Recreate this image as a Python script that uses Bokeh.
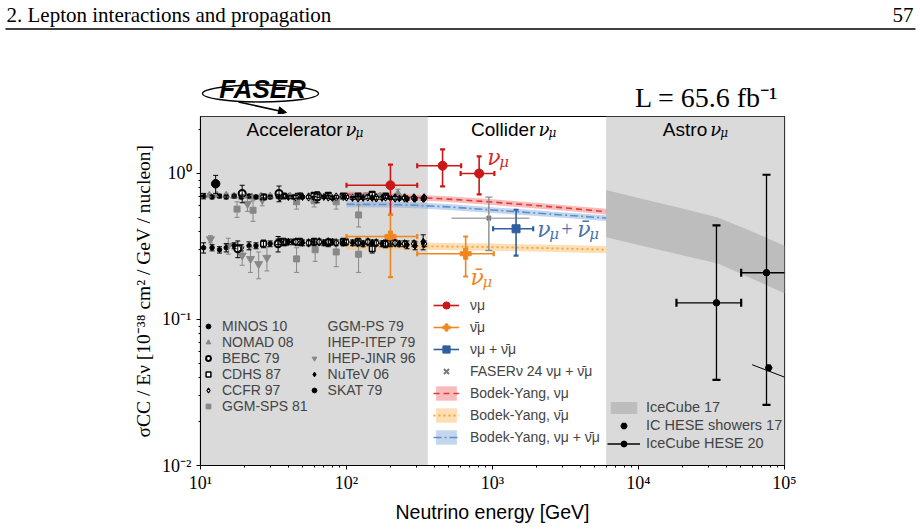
import numpy as np
from bokeh.plotting import figure
from bokeh.layouts import column
from bokeh.models import (ColumnDataSource, Whisker, TeeHead, BoxAnnotation, Legend, LegendItem,
                          FixedTicker, Range1d, Arrow, NormalHead)
from bokeh.core.properties import value
from bokeh.embed import file_html
from bokeh.resources import INLINE

# ---------------- axis ticks ----------------
x_ticks = [10, 100, 1000, 10000, 100000]
x_tick_labels = ["10¹", "10²", "10³", "10⁴", "10⁵"]
y_ticks = [0.01, 0.1, 1]
y_tick_labels = ["10⁻²", "10⁻¹", "10⁰"]

acc_region = [10, 360]
astro_region = [6000, 100000]

# ---------------- accelerator data (E [GeV], sigma/E, err) ----------------
minos_E_nu = [10.5, 12, 13.5, 15, 17, 19, 21.5, 24, 27, 30, 34, 38, 43, 48]
minos_nu = [0.70, 0.69, 0.70, 0.69, 0.70, 0.69, 0.70, 0.69, 0.70, 0.69, 0.70, 0.70, 0.69, 0.70]
minos_nu_err = [0.03, 0.02, 0.02, 0.02, 0.02, 0.02, 0.02, 0.02, 0.02, 0.02, 0.02, 0.02, 0.02, 0.02]
minos_E_nub = [10.5, 12, 13.5, 15, 17, 19, 21.5, 24, 27, 30, 34, 38, 43, 48]
minos_nub = [0.31, 0.31, 0.30, 0.31, 0.32, 0.31, 0.32, 0.32, 0.33, 0.33, 0.34, 0.335, 0.34, 0.34]
minos_nub_err = [0.025, 0.015, 0.015, 0.02, 0.015, 0.015, 0.02, 0.015, 0.015, 0.015, 0.015, 0.015, 0.015, 0.015]

nomad_E = [10, 11.5, 13, 15, 17, 19.5, 22.5, 26, 30, 35, 41, 48, 56, 66, 78, 92, 110, 135, 170, 225]
nomad_nu = [0.70, 0.71, 0.71, 0.71, 0.70, 0.70, 0.69, 0.70, 0.70, 0.69, 0.70, 0.70, 0.69, 0.70,
            0.70, 0.69, 0.69, 0.70, 0.70, 0.73]
nomad_err = [0.02, 0.02, 0.02, 0.02, 0.02, 0.02, 0.02, 0.02, 0.02, 0.02, 0.02, 0.02, 0.02, 0.02,
             0.02, 0.02, 0.02, 0.03, 0.03, 0.05]

bebc_E_nu = [19.3, 34.5, 63]
bebc_nu = [0.73, 0.73, 0.69]
bebc_nu_err = [0.10, 0.09, 0.06]
bebc_E_nub = [18, 34]
bebc_nub = [0.305, 0.33]
bebc_nub_err = [0.04, 0.04]

cdhs_E = [27, 37, 48, 60, 75, 95, 120, 150, 185]
cdhs_nu = [0.69, 0.70, 0.70, 0.71, 0.71, 0.70, 0.70, 0.72, 0.70]
cdhs_nu_err = [0.02, 0.02, 0.02, 0.02, 0.02, 0.02, 0.02, 0.02, 0.02]
cdhs_nub = [0.33, 0.34, 0.34, 0.34, 0.335, 0.34, 0.34, 0.305, 0.33]
cdhs_nub_err = [0.02, 0.02, 0.02, 0.02, 0.02, 0.02, 0.02, 0.02, 0.02]

ccfr_E = [35, 45, 55, 65, 75, 85, 100, 120, 140, 160, 185, 215, 250, 290, 340]
ccfr_nu = [0.69, 0.69, 0.69, 0.70, 0.69, 0.69, 0.69, 0.68, 0.69, 0.68, 0.69, 0.68, 0.68, 0.68, 0.68]
ccfr_nu_err = [0.015] * 15
ccfr_nub = [0.34, 0.34, 0.335, 0.34, 0.34, 0.335, 0.34, 0.335, 0.34, 0.335, 0.33, 0.335, 0.33, 0.33, 0.33]
ccfr_nub_err = [0.015] * 15

ggmsps_E_nu = [17.8, 22.9, 45.5, 60, 85, 121]
ggmsps_nu = [0.57, 0.56, 0.64, 0.65, 0.64, 0.52]
ggmsps_nu_err = [0.07, 0.09, 0.07, 0.06, 0.07, 0.09]
ggmsps_E_nub = [45.5, 61, 85, 121]
ggmsps_nub = [0.26, 0.30, 0.29, 0.28]
ggmsps_nub_err = [0.05, 0.05, 0.06, 0.07]

ggmps_E = []          # below 10 GeV, outside the plotted range
ggmps_s = []
ihepitep_E = []       # below 10 GeV, outside the plotted range
ihepitep_s = []

ihepjinr_E_nu = [21, 26.5]
ihepjinr_nu = [0.62, 0.66]
ihepjinr_nu_err = [0.07, 0.06]
ihepjinr_E_nub = [11.7, 15.5, 19.3, 22, 25, 28.5]
ihepjinr_nub = [0.355, 0.32, 0.275, 0.26, 0.24, 0.265]
ihepjinr_nub_err = [0.02, 0.04, 0.04, 0.05, 0.05, 0.05]

nutev_E = [40, 50, 60, 70, 80, 95, 110, 130, 150, 175, 200, 230, 260, 295, 335]
nutev_nu = [0.69, 0.69, 0.68, 0.69, 0.68, 0.69, 0.68, 0.68, 0.68, 0.68, 0.68, 0.675, 0.67, 0.67, 0.67]
nutev_nu_err = [0.015] * 15
nutev_nub = [0.34, 0.335, 0.34, 0.335, 0.34, 0.335, 0.335, 0.33, 0.335, 0.33, 0.33, 0.33, 0.325, 0.32, 0.34]
nutev_nub_err = [0.015, 0.015, 0.015, 0.015, 0.015, 0.015, 0.015, 0.015, 0.015, 0.015, 0.015, 0.015,
                 0.02, 0.02, 0.04]

skat_E = [12.7]
skat_nu = [0.85]
skat_nu_err = [0.12]

# ---------------- FASER 65.6 fb^-1 ----------------
faser_nu_E = [200, 455, 810]
faser_nu_Elo = [100, 305, 605]
faser_nu_Ehi = [305, 610, 1030]
faser_nu_s = [0.83, 1.13, 1.00]
faser_nu_slo = [0.52, 0.815, 0.72]
faser_nu_shi = [1.15, 1.46, 1.31]

faser_nub_E = [200, 655]
faser_nub_Elo = [100, 305]
faser_nub_Ehi = [305, 1020]
faser_nub_s = [0.37, 0.282]
faser_nub_slo = [0.195, 0.197]
faser_nub_shi = [0.52, 0.37]

faser_sum_E = [1450]
faser_sum_Elo = [1010]
faser_sum_Ehi = [1900]
faser_sum_s = [0.418]
faser_sum_slo = [0.274]
faser_sum_shi = [0.564]

fasernu24_E = [944]
fasernu24_Elo = [524]
fasernu24_Ehi = [1790]
fasernu24_s = [0.494]
fasernu24_slo = [0.297]
fasernu24_shi = [0.689]

# ---------------- Bodek-Yang predictions ----------------
by_E = [100, 200, 300, 500, 1000, 2000, 3000, 6000]
by_nu = [0.720, 0.700, 0.685, 0.667, 0.637, 0.603, 0.583, 0.548]
by_nu_lo = [0.688, 0.669, 0.655, 0.637, 0.608, 0.576, 0.557, 0.524]
by_nu_hi = [0.752, 0.732, 0.716, 0.697, 0.666, 0.630, 0.609, 0.573]
by_nub = [0.320, 0.319, 0.318, 0.316, 0.313, 0.309, 0.306, 0.301]
by_nub_lo = [0.302, 0.301, 0.300, 0.298, 0.295, 0.292, 0.289, 0.284]
by_nub_hi = [0.338, 0.337, 0.336, 0.334, 0.331, 0.326, 0.323, 0.318]
by_sum = [0.615, 0.612, 0.605, 0.590, 0.562, 0.535, 0.520, 0.495]
by_sum_lo = [0.587, 0.585, 0.578, 0.563, 0.537, 0.511, 0.497, 0.473]
by_sum_hi = [0.643, 0.640, 0.632, 0.617, 0.587, 0.559, 0.543, 0.517]

# ---------------- Astro ----------------
ic17_E = [6000, 10000, 20000, 35000, 60000, 100000]
ic17_lo = [0.365, 0.323, 0.275, 0.242, 0.19, 0.151]
ic17_hi = [0.77, 0.68, 0.575, 0.50, 0.40, 0.32]

hese20_E = [34200, 75300]
hese20_Elo = [18200, 50500]
hese20_Ehi = [50500, 112000]
hese20_s = [0.130, 0.209]
hese20_slo = [0.0386, 0.026]
hese20_shi = [0.441, 0.98]

hesesh_E = [78000]
hesesh_s = [0.0467]
hesesh_seg_E = [60000, 100000]
hesesh_seg_s = [0.049, 0.0403]

# ---------------- styles ----------------
BLACK = "#000000"
GRAY = "#888888"
RED = "#cc1717"
ORANGE = "#f0861c"
BLUE = "#2f5f9e"
REGION = "#dadada"
SANS = "Liberation Sans"
SERIF = "Liberation Serif"
MATH = "DejaVu Serif"
BASE_FIX = -6   # baseline correction (px) for alphabetic text


def no_align(fig):
    try:
        fig.frame_align = False
    except Exception:
        pass


# ================= header figure =================
h = figure(width=920, height=114, x_range=Range1d(0, 920), y_range=Range1d(114, 0),
           toolbar_location=None, output_backend="svg", min_border=0,
           x_axis_location=None, y_axis_location=None)
no_align(h)
h.outline_line_color = None
h.grid.visible = False
h.text(x=[6], y=[14], text=["2. Lepton interactions and propagation"], text_font=value(SERIF),
       text_font_size="21px", text_baseline="alphabetic", text_align="left", text_color=BLACK)
h.text(x=[913], y=[14], text=["57"], text_font=value(SERIF), text_font_size="21px",
       text_baseline="alphabetic", text_align="right", text_color=BLACK)
h.segment(x0=[5], y0=[28.5], x1=[915], y1=[28.5], line_color=BLACK, line_width=1.5)
h.ellipse(x=[260], y=[93], width=[116], height=[17], fill_alpha=0, line_color=BLACK, line_width=1.3)
h.add_layout(Arrow(end=NormalHead(size=8, fill_color=BLACK, line_color=BLACK), x_start=238, y_start=101.5,
                   x_end=286, y_end=112, line_color=BLACK, line_width=1.5))
h.text(x=[262], y=[88], text=["FASER"], text_font=value(SANS), text_font_style="bold italic",
       text_font_size="26px", text_baseline="middle", text_align="center", text_color=BLACK)
h.text(x=[778], y=[97], text=["L = 65.6 fb⁻¹"], text_font=value(SERIF), text_font_size="28px",
       text_baseline="alphabetic", text_align="right", text_color=BLACK)

# ================= main figure =================
p = figure(width=920, height=416, x_axis_type="log", y_axis_type="log",
           x_range=Range1d(10, 1e5), y_range=Range1d(0.01, 2.455),
           min_border_left=200, min_border_right=136, min_border_top=2, min_border_bottom=65,
           toolbar_location=None, output_backend="svg")
no_align(p)
p.grid.visible = False
p.outline_line_color = BLACK
p.outline_line_width = 1.2
p.outline_line_alpha = 1.0
p.background_fill_color = "white"
p.border_fill_color = "white"

x_minor = [m * d for d in [10, 100, 1000, 10000] for m in range(2, 10)]
y_minor = [m * d for d in [0.01, 0.1] for m in range(2, 10)] + [2]
p.xaxis.ticker = FixedTicker(ticks=x_ticks, minor_ticks=x_minor)
p.yaxis.ticker = FixedTicker(ticks=y_ticks, minor_ticks=y_minor)
p.xaxis.major_label_overrides = {float(t): l for t, l in zip(x_ticks, x_tick_labels)}
p.yaxis.major_label_overrides = {float(t): l for t, l in zip(y_ticks, y_tick_labels)}
for ax in (p.xaxis[0], p.yaxis[0]):
    ax.major_tick_out = 4
    ax.major_tick_in = 0
    ax.minor_tick_out = 2
    ax.minor_tick_in = 0
    ax.major_tick_line_color = BLACK
    ax.minor_tick_line_color = BLACK
    ax.axis_line_color = BLACK
    ax.major_label_text_font = SERIF
    ax.major_label_text_font_size = "18px"
    ax.major_label_text_color = BLACK
    ax.axis_label_text_font_style = "normal"
    ax.axis_label_text_color = BLACK
p.xaxis.major_label_standoff = 3
p.yaxis.major_label_standoff = 5
p.xaxis.axis_label = "Neutrino energy [GeV]"
p.xaxis.axis_label_text_font = SANS
p.xaxis.axis_label_text_font_size = "19.5px"
p.xaxis.axis_label_standoff = 5
p.yaxis.axis_label = "σCC / Eν [10⁻³⁸ cm² / GeV / nucleon]"
p.yaxis.axis_label_text_font = SERIF
p.yaxis.axis_label_text_font_size = "19.5px"
p.yaxis.axis_label_standoff = 5

# regions
p.add_layout(BoxAnnotation(left=acc_region[0], right=acc_region[1], fill_color=REGION, fill_alpha=1,
                           line_alpha=0, level="underlay"))
p.add_layout(BoxAnnotation(left=astro_region[0], right=astro_region[1], fill_color=REGION, fill_alpha=1,
                           line_alpha=0, level="underlay"))

# IceCube 17 band
r_ic17 = p.varea(x=ic17_E, y1=ic17_lo, y2=ic17_hi, fill_color="#bdbdbd", fill_alpha=1)

# Bodek-Yang bands
r_by_nu_b = p.varea(x=by_E, y1=by_nu_lo, y2=by_nu_hi, fill_color="#ef6a6a", fill_alpha=0.45)
r_by_nu_l = p.line(by_E, by_nu, line_color="#e23a36", line_width=1.6, line_dash="6 4")
r_by_nub_b = p.varea(x=by_E, y1=by_nub_lo, y2=by_nub_hi, fill_color="#fdbd6a", fill_alpha=0.5)
r_by_nub_l = p.line(by_E, by_nub, line_color="#f2a43a", line_width=1.8, line_dash="2 3")
r_by_sum_b = p.varea(x=by_E, y1=by_sum_lo, y2=by_sum_hi, fill_color="#7ba3d6", fill_alpha=0.45)
r_by_sum_l = p.line(by_E, by_sum, line_color="#5b8fd4", line_width=1.6, line_dash="8 3 2 3")


def errpts(E, s, err, color, marker, size, fill, lw=1.0, cap=5, mlw=1.0):
    lo = [a - b for a, b in zip(s, err)]
    hi = [a + b for a, b in zip(s, err)]
    src = ColumnDataSource(dict(x=E, y=s, lo=lo, hi=hi))
    p.add_layout(Whisker(source=src, base="x", lower="lo", upper="hi", dimension="height", level="glyph",
                         line_color=color, line_width=lw,
                         upper_head=TeeHead(size=cap, line_color=color, line_width=lw),
                         lower_head=TeeHead(size=cap, line_color=color, line_width=lw)))
    return p.scatter(x="x", y="y", source=src, marker=marker, size=size, fill_color=fill,
                     line_color=color, line_width=mlw)


def nopts(marker, size, color):
    src = ColumnDataSource(dict(x=[], y=[]))
    return p.scatter(x="x", y="y", source=src, marker=marker, size=size, fill_color=color, line_color=color)


# gray experiments first
r_nomad = errpts(nomad_E, nomad_nu, nomad_err, GRAY, "triangle", 7, GRAY)
r_ggmsps = errpts(ggmsps_E_nu, ggmsps_nu, ggmsps_nu_err, GRAY, "square", 6, GRAY)
errpts(ggmsps_E_nub, ggmsps_nub, ggmsps_nub_err, GRAY, "square", 6, GRAY)
r_jinr = errpts(ihepjinr_E_nub, ihepjinr_nub, ihepjinr_nub_err, GRAY, "inverted_triangle", 8, GRAY)
errpts(ihepjinr_E_nu, ihepjinr_nu, ihepjinr_nu_err, GRAY, "inverted_triangle", 8, GRAY)
# black experiments
r_minos = errpts(minos_E_nu, minos_nu, minos_nu_err, BLACK, "circle", 4.5, BLACK)
errpts(minos_E_nub, minos_nub, minos_nub_err, BLACK, "circle", 4.5, BLACK)
r_cdhs = errpts(cdhs_E, cdhs_nu, cdhs_nu_err, BLACK, "square", 5.5, "white", mlw=1.5)
errpts(cdhs_E, cdhs_nub, cdhs_nub_err, BLACK, "square", 5.5, "white", mlw=1.5)
r_ccfr = errpts(ccfr_E, ccfr_nu, ccfr_nu_err, BLACK, "diamond", 8, "white", mlw=1.2)
errpts(ccfr_E, ccfr_nub, ccfr_nub_err, BLACK, "diamond", 8, "white", mlw=1.2)
r_nutev = errpts(nutev_E, nutev_nu, nutev_nu_err, BLACK, "diamond", 7, BLACK)
errpts(nutev_E, nutev_nub, nutev_nub_err, BLACK, "diamond", 7, BLACK)
r_bebc = errpts(bebc_E_nu, bebc_nu, bebc_nu_err, BLACK, "circle", 7, "white", mlw=2)
errpts(bebc_E_nub, bebc_nub, bebc_nub_err, BLACK, "circle", 7, "white", mlw=2)
r_skat = errpts(skat_E, skat_nu, skat_nu_err, BLACK, "circle", 8.5, BLACK)
r_ggmps = nopts("square", 6, BLACK)
r_itep = nopts("inverted_triangle", 8, BLACK)


def faser(E, Elo, Ehi, s, slo, shi, color, marker, size, lw=1.6, cap=5):
    src = ColumnDataSource(dict(x=E, xl=Elo, xh=Ehi, y=s, yl=slo, yh=shi))
    r1 = p.segment(x0="xl", y0="y", x1="xh", y1="y", source=src, line_color=color, line_width=lw)
    r2 = p.segment(x0="x", y0="yl", x1="x", y1="yh", source=src, line_color=color, line_width=lw)
    p.scatter(x="x", y="yl", source=src, marker="dash", size=cap, line_color=color, line_width=2.2)
    p.scatter(x="x", y="yh", source=src, marker="dash", size=cap, line_color=color, line_width=2.2)
    p.scatter(x="xl", y="y", source=src, marker="dash", angle=np.pi / 2, size=cap, line_color=color,
              line_width=2.2)
    p.scatter(x="xh", y="y", source=src, marker="dash", angle=np.pi / 2, size=cap, line_color=color,
              line_width=2.2)
    r3 = p.scatter(x="x", y="y", source=src, marker=marker, size=size, fill_color=color, line_color=color)
    return [r1, r2, r3]


# FASERnu 24
src24 = ColumnDataSource(dict(x=fasernu24_E, xl=fasernu24_Elo, xh=fasernu24_Ehi, y=fasernu24_s,
                              yl=fasernu24_slo, yh=fasernu24_shi))
p.segment(x0="xl", y0="y", x1="xh", y1="y", source=src24, line_color="#a8a8a8", line_width=1.4)
p.add_layout(Whisker(source=src24, base="x", lower="yl", upper="yh", dimension="height", level="glyph",
                     line_color="#8c8c8c", line_width=1.4,
                     upper_head=TeeHead(size=7, line_color="#8c8c8c", line_width=1.4),
                     lower_head=TeeHead(size=7, line_color="#8c8c8c", line_width=1.4)))
r_f24 = p.scatter(x="x", y="y", source=src24, marker="x", size=6, line_color="#7a7a7a", line_width=2)

r_fnu = faser(faser_nu_E, faser_nu_Elo, faser_nu_Ehi, faser_nu_s, faser_nu_slo, faser_nu_shi,
              RED, "circle", 9)
r_fnub = faser(faser_nub_E, faser_nub_Elo, faser_nub_Ehi, faser_nub_s, faser_nub_slo, faser_nub_shi,
               ORANGE, "plus", 11)
r_fsum = faser(faser_sum_E, faser_sum_Elo, faser_sum_Ehi, faser_sum_s, faser_sum_slo, faser_sum_shi,
               BLUE, "square", 8)

# IceCube HESE 20
r_hese = faser(hese20_E, hese20_Elo, hese20_Ehi, hese20_s, hese20_slo, hese20_shi, BLACK, "circle", 6.5,
               lw=1.3, cap=8)
# IC HESE showers 17
p.line(hesesh_seg_E, hesesh_seg_s, line_color=BLACK, line_width=1.0)
r_hesesh = p.scatter(x=hesesh_E, y=hesesh_s, marker="hex", size=6.5, fill_color=BLACK,
                     line_color=BLACK, line_width=1.2)


# ---------------- text labels ----------------
def tx(x, y, t, color, size, font=MATH, style="italic", dx=0, dy=0, align="left"):
    p.text(x=[x], y=[y], text=[t], x_offset=dx, y_offset=dy + BASE_FIX, text_font=value(font),
           text_font_style=style, text_font_size=size, text_color=color, text_align=align,
           text_baseline="alphabetic")


for xr, word in [(94, "Accelerator"), (1970, "Collider"), (29550, "Astro")]:
    tx(xr, 1.82, word, BLACK, "19px", font=SANS, style="normal", align="right")
    tx(xr, 1.82, "ν", BLACK, "18px", dx=3)
    tx(xr, 1.82, "μ", BLACK, "12px", dx=13, dy=4)

tx(920, 1.171, "ν", "#d42a2a", "22px")
tx(920, 1.171, "μ", "#d42a2a", "15px", dx=12, dy=5)
tx(2023, 0.376, "ν", "#4a72b0", "22px")
tx(2023, 0.376, "μ", "#4a72b0", "15px", dx=12, dy=5)
tx(2023, 0.376, "+", "#4a72b0", "20px", font=SERIF, style="normal", dx=24)
tx(2023, 0.376, "ν̄", "#4a72b0", "22px", dx=40)
tx(2023, 0.376, "μ", "#4a72b0", "15px", dx=52, dy=5)
tx(706, 0.1765, "ν̄", ORANGE, "22px")
tx(706, 0.1765, "μ", ORANGE, "15px", dx=12, dy=5)

# ---------------- legends ----------------
leg_acc = Legend(items=[
    LegendItem(label="MINOS 10", renderers=[r_minos]),
    LegendItem(label="NOMAD 08", renderers=[r_nomad]),
    LegendItem(label="BEBC 79", renderers=[r_bebc]),
    LegendItem(label="CDHS 87", renderers=[r_cdhs]),
    LegendItem(label="CCFR 97", renderers=[r_ccfr]),
    LegendItem(label="GGM-SPS 81", renderers=[r_ggmsps]),
    LegendItem(label="GGM-PS 79", renderers=[r_ggmps]),
    LegendItem(label="IHEP-ITEP 79", renderers=[r_itep]),
    LegendItem(label="IHEP-JINR 96", renderers=[r_jinr]),
    LegendItem(label="NuTeV 06", renderers=[r_nutev]),
    LegendItem(label="SKAT 79", renderers=[r_skat]),
], location=(0, 49), nrows=6, orientation="vertical", background_fill_alpha=0, border_line_alpha=0,
    label_text_font=SANS, label_text_font_size="14px", glyph_width=12, glyph_height=14, label_height=14,
    spacing=0, padding=2, margin=0, label_standoff=8)
p.add_layout(leg_acc)

leg_col = Legend(items=[
    LegendItem(label="νμ", renderers=[r_fnu[0], r_fnu[2]]),
    LegendItem(label="ν̄μ", renderers=[r_fnub[0], r_fnub[2]]),
    LegendItem(label="νμ + ν̄μ", renderers=[r_fsum[0], r_fsum[2]]),
    LegendItem(label="FASERν 24 νμ + ν̄μ", renderers=[r_f24]),
    LegendItem(label="Bodek-Yang, νμ", renderers=[r_by_nu_b, r_by_nu_l]),
    LegendItem(label="Bodek-Yang, ν̄μ", renderers=[r_by_nub_b, r_by_nub_l]),
    LegendItem(label="Bodek-Yang, νμ + ν̄μ", renderers=[r_by_sum_b, r_by_sum_l]),
], location=(230, 16), background_fill_alpha=0, border_line_alpha=0,
    label_text_font=SANS, label_text_font_size="14px", glyph_width=26, glyph_height=18, label_height=18,
    spacing=4, padding=3, margin=0, label_standoff=11)
p.add_layout(leg_col)

leg_astro = Legend(items=[
    LegendItem(label="IceCube 17", renderers=[r_ic17]),
    LegendItem(label="IC HESE showers 17", renderers=[r_hesesh]),
    LegendItem(label="IceCube HESE 20", renderers=[r_hese[0], r_hese[2]]),
], location=(401, 8), background_fill_alpha=0, border_line_alpha=0,
    label_text_font=SANS, label_text_font_size="14.5px", glyph_width=33, glyph_height=15, label_height=15,
    spacing=2, padding=6, margin=0, label_standoff=6)
p.add_layout(leg_astro)

layout = column(h, p, spacing=0)
open("out.html", "w").write(file_html(layout, INLINE))
